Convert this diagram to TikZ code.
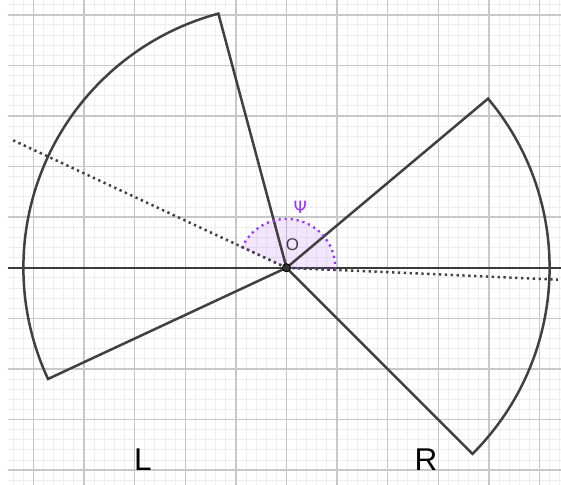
\documentclass[tikz,border=0pt]{standalone}
\usepackage{fontspec}
\setmainfont{Liberation Sans}
\newfontfamily\dejavu{DejaVu Sans}
\definecolor{ggviolet}{RGB}{153,51,255}
\definecolor{ggdark}{RGB}{64,64,64}
\definecolor{majgrid}{RGB}{200,200,200}
\definecolor{mingrid}{RGB}{238,238,238}
\tikzset{
  minorgrid/.style={draw=mingrid, line width=0.55pt},
  majorgrid/.style={draw=majgrid, line width=0.85pt},
  axisline/.style={draw=ggdark!90!black, line width=0.9pt},
  sectorline/.style={draw=ggdark, line width=1.4pt, line join=miter},
  rayline/.style={draw=ggdark, line width=1.4pt, dash pattern=on 1.3pt off 2pt},
  anglefill/.style={fill=ggviolet, fill opacity=0.12},
  angledots/.style={draw=ggviolet, line width=1.3pt, dash pattern=on 1.2pt off 2.2pt},
  ptstyle/.style={circle, fill=ggdark!80!black, draw=black, line width=0.5pt, inner sep=0pt, minimum size=0.16cm},
  biglbl/.style={font=\fontsize{17.7}{20}\selectfont, text=black},
  smalllbl/.style={font=\fontsize{9.5}{11}\selectfont, text=ggdark},
  psilbl/.style={font=\dejavu\fontsize{9.5}{11}\selectfont, text=ggviolet}
}
\begin{document}
\begin{tikzpicture}[x=1cm,y=1cm]
\useasboundingbox (-5.662,-4.292) rectangle (5.425,5.292);
\fill[white] (-5.662,-4.292) rectangle (5.425,5.292);
\begin{scope}
  \clip (-5.504,-4.292) rectangle (5.425,5.292);
  \draw[minorgrid, step=0.2] (-5.8,-4.4) grid (5.6,5.4);
  \draw[majorgrid, step=1] (-5.8,-4.4) grid (5.6,5.4);
\end{scope}
\coordinate (O) at (0,0);
\coordinate (AxL) at (-5.504,0);
\coordinate (AxR) at (5.425,0);
\draw[axisline] (AxL) -- (AxR);
% angle sector
\coordinate (A1) at (-2.5:0.965);
\fill[anglefill] (O) -- (A1) arc[start angle=-2.5, end angle=155, radius=0.965] -- cycle;
% sectors
\coordinate (LT) at (105:5.2);
\coordinate (LB) at (205:5.2);
\coordinate (RT) at (40:5.2);
\coordinate (RB) at (-45:5.2);
\draw[sectorline] (O) -- (LT) arc[start angle=105, end angle=205, radius=5.2] -- cycle;
\draw[sectorline] (O) -- (RB) arc[start angle=-45, end angle=40, radius=5.2] -- cycle;
% dotted rays
\coordinate (RayL) at (155:6.01);
\coordinate (RayR) at (-2.5:5.37);
\draw[angledots] (A1) arc[start angle=-2.5, end angle=155, radius=0.965] -- (O) -- cycle;
\draw[rayline] (O) -- (RayL);
\draw[rayline] (O) -- (RayR);
\node[ptstyle] (Opt) at (O) {};
\node[smalllbl] (Olbl) at (0.12,0.46) {O};
\node[psilbl] (Psi) at (0.27,1.2) {Ψ};
\node[biglbl] (Llbl) at (-2.836,-3.80) {L};
\node[biglbl] (Rlbl) at (2.757,-3.79) {R};
\end{tikzpicture}
\end{document}
